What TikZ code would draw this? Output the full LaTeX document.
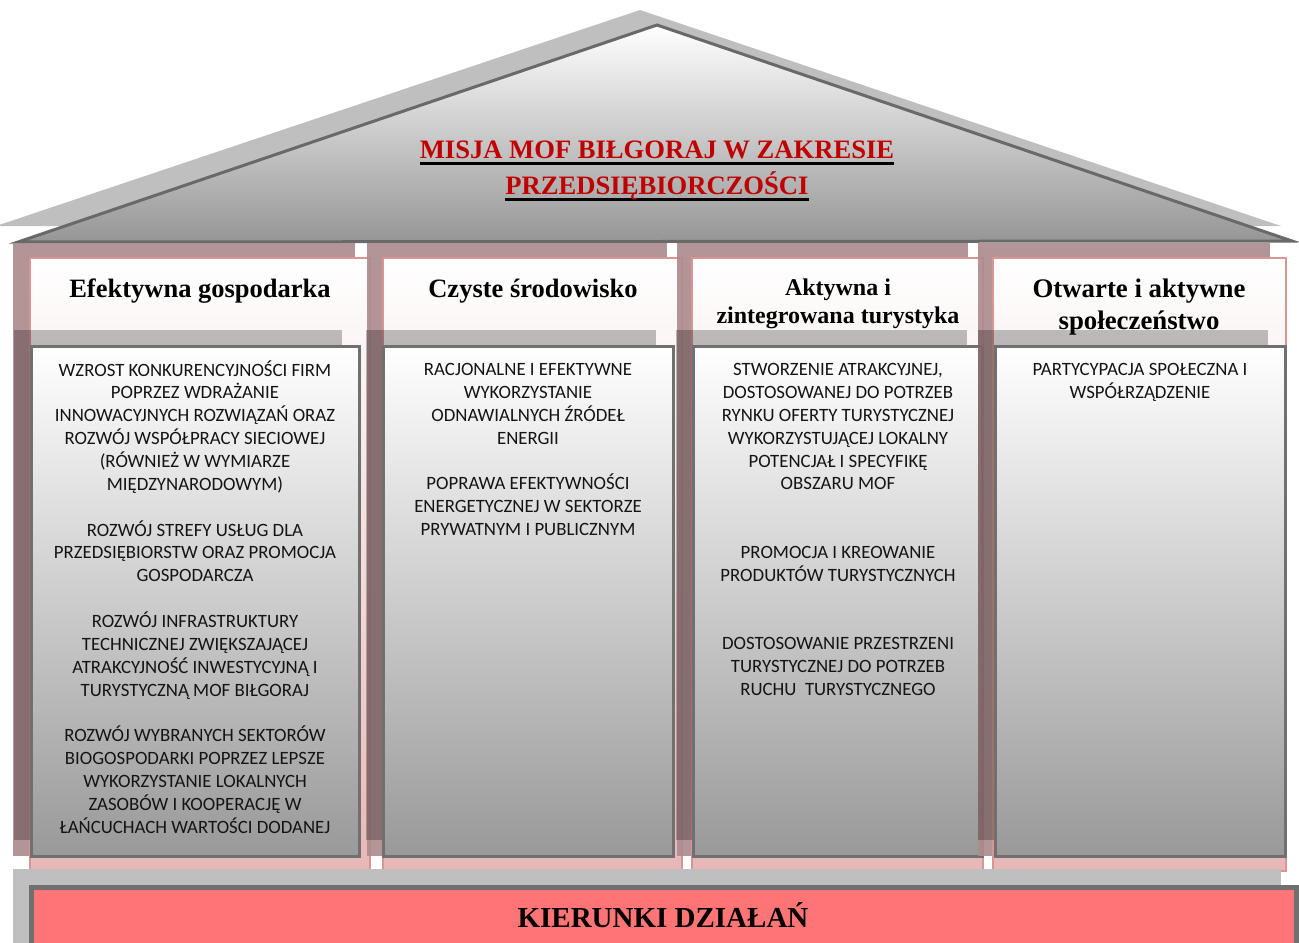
\documentclass[tikz,border=0pt]{standalone}
\usepackage{fontspec}
\setmainfont{Liberation Serif}
\setsansfont{Carlito}

\definecolor{mauve}{RGB}{174,140,142}
\definecolor{pinkline}{RGB}{217,149,148}
\definecolor{pinkfill}{RGB}{230,184,183}
\definecolor{boxline}{RGB}{112,112,112}
\definecolor{boxgray}{RGB}{153,153,153}
\definecolor{roofline}{RGB}{105,105,105}
\definecolor{roofgray}{RGB}{150,150,150}
\definecolor{lightshadow}{RGB}{191,191,191}
\definecolor{salmon}{RGB}{255,117,117}
\definecolor{missionred}{RGB}{192,0,0}
\definecolor{textgray}{RGB}{20,20,20}

% black underline below red title text
\newcommand{\titleul}[1]{\setbox0=\hbox{#1}\rlap{\color{black}\rule[-3.4pt]{\wd0}{1.5pt}}\box0}

\begin{document}
\begin{tikzpicture}[x=0.5pt, y=-0.5pt,
    pillarshadow/.style={fill=mauve, fill opacity=0.92},
    pillar/.style={draw=pinkline, line width=1.3pt, top color=white, bottom color=pinkfill},
    goalshadow/.style={fill=black, fill opacity=0.25},
    goalbox/.style={draw=boxline, line width=1.5pt, top color=white, bottom color=boxgray},
    pillartitle/.style={font=\fontsize{13.25}{15}\selectfont\bfseries, align=center, anchor=north, inner sep=0pt, execute at begin node=\strut},
    goaltext/.style={font=\sffamily\fontsize{9.4}{11.43}\selectfont, align=center, anchor=north, inner sep=0pt, text=textgray, execute at begin node=\strut},
    missiontitle/.style={font=\fontsize{13.3}{16}\selectfont\bfseries, text=missionred, anchor=base, inner sep=0pt}]

    \useasboundingbox (0,0) rectangle (1299,942);
    \clip (0,0) rectangle (1299,942);

    % Roof with the mission
    \fill[lightshadow] (-4,226) -- (640,10) -- (1281,226) -- cycle;
    \path[draw=roofline, line width=1.5pt, top color=white, bottom color=roofgray] (18,242) -- (657,25) -- (1292,241) -- cycle;
    \node[missiontitle] (mission1) at (657,158) {\titleul{MISJA MOF BIŁGORAJ W ZAKRESIE}};
    \node[missiontitle] (mission2) at (657,194) {\titleul{PRZEDSIĘBIORCZOŚCI}};

    % Efektywna gospodarka
    \fill[pillarshadow] (13,243) rectangle (355,856);
    \path[pillar] (30,258) rectangle (370,871);
    \fill[goalshadow] (14,330) rectangle (342,840);
    \path[goalbox] (31,346) rectangle (359,856);
    \node[pillartitle] (pillar1) at (200,276) {Efektywna gospodarka};
    \node[goaltext] (goals1) at (195,360) {WZROST KONKURENCYJNOŚCI FIRM\\
        POPRZEZ WDRAŻANIE\\
        INNOWACYJNYCH ROZWIĄZAŃ ORAZ\\
        ROZWÓJ WSPÓŁPRACY SIECIOWEJ\\
        (RÓWNIEŻ W WYMIARZE\\
        MIĘDZYNARODOWYM)\\[11.43pt]
        ROZWÓJ STREFY USŁUG DLA\\
        PRZEDSIĘBIORSTW ORAZ PROMOCJA\\
        GOSPODARCZA\\[11.43pt]
        ROZWÓJ INFRASTRUKTURY\\
        TECHNICZNEJ ZWIĘKSZAJĄCEJ\\
        ATRAKCYJNOŚĆ INWESTYCYJNĄ I\\
        TURYSTYCZNĄ MOF BIŁGORAJ\\[11.43pt]
        ROZWÓJ WYBRANYCH SEKTORÓW\\
        BIOGOSPODARKI POPRZEZ LEPSZE\\
        WYKORZYSTANIE LOKALNYCH\\
        ZASOBÓW I KOOPERACJĘ W\\
        ŁAŃCUCHACH WARTOŚCI DODANEJ};

    % Czyste srodowisko
    \fill[pillarshadow] (367,243) rectangle (667,856);
    \path[pillar] (383,258) rectangle (682,871);
    \fill[goalshadow] (366,330) rectangle (656,840);
    \path[goalbox] (383,346) rectangle (673,856);
    \node[pillartitle] (pillar2) at (533,276) {Czyste środowisko};
    \node[goaltext] (goals2) at (528,363) {RACJONALNE I EFEKTYWNE\\
        WYKORZYSTANIE\\
        ODNAWIALNYCH ŹRÓDEŁ\\
        ENERGII\\[11.43pt]
        POPRAWA EFEKTYWNOŚCI\\
        ENERGETYCZNEJ W SEKTORZE\\
        PRYWATNYM I PUBLICZNYM};

    % Aktywna i zintegrowana turystyka
    \fill[pillarshadow] (677,243) rectangle (968,856);
    \path[pillar] (692,258) rectangle (983,871);
    \fill[goalshadow] (676,330) rectangle (967,840);
    \path[goalbox] (693,346) rectangle (982,856);
    \node[pillartitle, font=\fontsize{12}{14}\selectfont\bfseries] (pillar3) at (838,278) {Aktywna i\\ zintegrowana turystyka};
    \node[goaltext] (goals3) at (838,363) {STWORZENIE ATRAKCYJNEJ,\\
        DOSTOSOWANEJ DO POTRZEB\\
        RYNKU OFERTY TURYSTYCZNEJ\\
        WYKORZYSTUJĄCEJ LOKALNY\\
        POTENCJAŁ I SPECYFIKĘ\\
        OBSZARU MOF\\[22.86pt]
        PROMOCJA I KREOWANIE\\
        PRODUKTÓW TURYSTYCZNYCH\\[22.86pt]
        DOSTOSOWANIE PRZESTRZENI\\
        TURYSTYCZNEJ DO POTRZEB\\
        RUCHU\ \ TURYSTYCZNEGO};

    % Otwarte i aktywne spoleczenstwo
    \fill[pillarshadow] (978,243) rectangle (1270,856);
    \path[pillar] (993,258) rectangle (1286,871);
    \fill[goalshadow] (978,330) rectangle (1268,840);
    \path[goalbox] (995,346) rectangle (1285,856);
    \node[pillartitle, font=\fontsize{13.4}{16}\selectfont\bfseries] (pillar4) at (1139,278) {Otwarte i aktywne\\ społeczeństwo};
    \node[goaltext] (goals4) at (1140,363) {PARTYCYPACJA SPOŁECZNA I\\
        WSPÓŁRZĄDZENIE};

    % Base
    \fill[lightshadow] (13,869) rectangle (1281,960);
    \path[draw=boxline, line width=2.5pt, fill=salmon] (31.5,887.5) rectangle (1296.5,960);
    \node[font=\fontsize{14.5}{17}\selectfont\bfseries, anchor=base, inner sep=0pt] (directions) at (663,927) {KIERUNKI DZIAŁAŃ};

\end{tikzpicture}
\end{document}
